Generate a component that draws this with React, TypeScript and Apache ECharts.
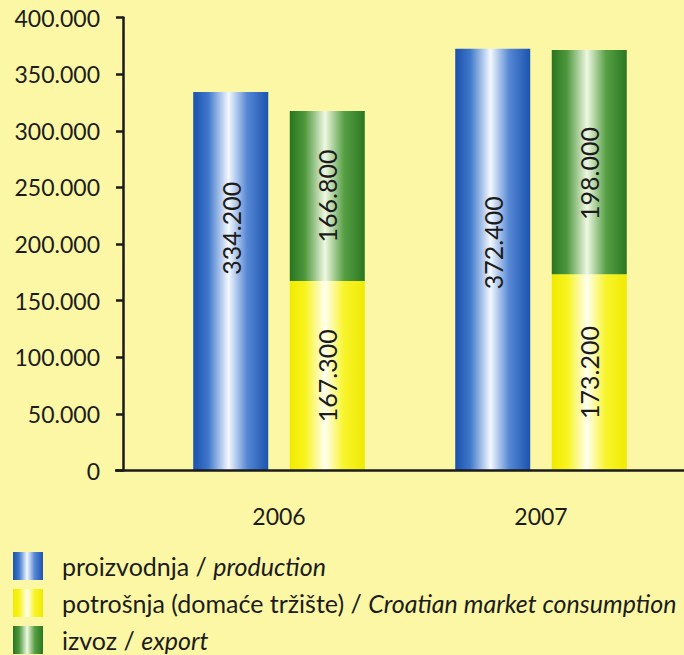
import React, { useEffect, useRef } from "react";
import * as echarts from "echarts";

const categories = ["2006", "2007"];
const production = [334200, 372400];
const consumption = [167300, 173200];
// bar heights as drawn in the picture
const exportDrawn = [150100, 198000];
// values as printed on the bars
const exportPrinted = [166800, 198000];
const seriesNames = [
  "proizvodnja / production",
  "potrošnja (domaće tržište) / Croatian market consumption",
  "izvoz / export",
];
const yTicks = { min: 0, max: 400000, interval: 50000 };

const fmt = (v: number) =>
  Math.round(v)
    .toString()
    .replace(/\B(?=(\d{3})+(?!\d))/g, ".");

const FONT = "Lato";
const TXT = "#1c1c1c";

const grad = (edge: string, mid1: string, hi: string, mid2: string, edge2: string) =>
  new echarts.graphic.LinearGradient(0, 0, 1, 0, [
    { offset: 0, color: edge },
    { offset: 0.2, color: mid1 },
    { offset: 0.47, color: hi },
    { offset: 0.72, color: mid2 },
    { offset: 1, color: edge2 },
  ]);

export default function App() {
  const ref = useRef<HTMLDivElement>(null);
  useEffect(() => {
    document.body.style.margin = "0";
    if (!ref.current) return;
    const chart = echarts.init(ref.current, null, { renderer: "svg" });
    const gridTop = 17.5;
    const gridBottom = 184.5;
    const H = 655;
    const blueGrad = grad("#1a52ad", "#3f77cb", "#f3f8ff", "#5587d4", "#1b54ae");
    const yellowGrad = grad("#f0ea00", "#f7f31c", "#fffff0", "#f8f42c", "#f0ea00");
    const greenGrad = grad("#287520", "#4e973d", "#eff8e2", "#58a046", "#29771f");
    const labelBase = {
      show: true,
      rotate: 90,
      align: "center" as const,
      verticalAlign: "middle" as const,
      fontFamily: FONT,
      fontSize: 25,
      color: TXT,
    };
    const blueLabelPos = ["36%", "46%"];
    const greenLabelPos = ["50%", "55%"];
    const legends = seriesNames.map((name, i) => ({
      orient: "horizontal",
      left: 8,
      top: 547 + 37 * i,
      itemWidth: 30,
      itemHeight: 28,
      icon: "rect",
      itemStyle: { borderWidth: 0 },
      data: [name],
      formatter: (n: string) => {
        const [a, b] = n.split(" / ");
        return `{n|${a} / }{i|${b}}`;
      },
      textStyle: {
        fontFamily: FONT,
        fontSize: 25,
        color: TXT,
        padding: [0, 0, 0, 14],
        rich: {
          n: { fontFamily: FONT, fontSize: 25, color: TXT },
          i: { fontFamily: FONT, fontSize: 25, color: TXT, fontStyle: "italic" },
        },
      },
    }));
    chart.setOption({
      animation: false,
      backgroundColor: "#fbf7a5",
      grid: {
        left: 148,
        right: 12,
        top: gridTop,
        bottom: gridBottom,
        outerBoundsMode: "none",
      },
      legend: legends,
      xAxis: {
        type: "category",
        data: categories,
        axisLine: { show: false },
        axisTick: { show: false },
        axisLabel: { margin: 34, fontFamily: FONT, fontSize: 23, color: TXT },
      },
      yAxis: {
        type: "value",
        min: yTicks.min,
        max: yTicks.max,
        interval: yTicks.interval,
        offset: 25,
        splitLine: { show: false },
        axisLine: { show: true, lineStyle: { color: "#1a1a1a", width: 2.5 } },
        axisTick: { show: true, length: 7, lineStyle: { color: "#1a1a1a", width: 2.5 } },
        axisLabel: {
          margin: 23,
          fontFamily: FONT,
          fontSize: 23,
          color: TXT,
          formatter: (v: number) => fmt(v),
        },
      },
      graphic: [
        {
          type: "line",
          z: 50,
          shape: { x1: 115, y1: H - gridBottom, x2: 684, y2: H - gridBottom },
          style: { stroke: "#1a1a1a", lineWidth: 2.5 },
        },
      ],
      series: [
        {
          name: seriesNames[0],
          type: "bar",
          stack: "p",
          barWidth: 75,
          barGap: "28.7%",
          itemStyle: { color: blueGrad },
          label: { ...labelBase, formatter: (p: any) => fmt(p.value) },
          data: production.map((v, i) => ({
            value: v,
            label: { position: ["50%", blueLabelPos[i]] },
          })),
        },
        {
          name: seriesNames[1],
          type: "bar",
          stack: "c",
          barWidth: 75,
          barGap: "28.7%",
          itemStyle: { color: yellowGrad },
          label: { ...labelBase, position: ["50%", "50%"], formatter: (p: any) => fmt(p.value) },
          data: consumption,
        },
        {
          name: seriesNames[2],
          type: "bar",
          stack: "c",
          barWidth: 75,
          barGap: "28.7%",
          itemStyle: { color: greenGrad },
          label: {
            ...labelBase,
            formatter: (p: any) => fmt(exportPrinted[p.dataIndex]),
          },
          data: exportDrawn.map((v, i) => ({
            value: v,
            label: { position: ["50%", greenLabelPos[i]] },
          })),
        },
      ],
    });
    return () => chart.dispose();
  }, []);
  return <div ref={ref} style={{ width: 684, height: 655 }} />;
}
